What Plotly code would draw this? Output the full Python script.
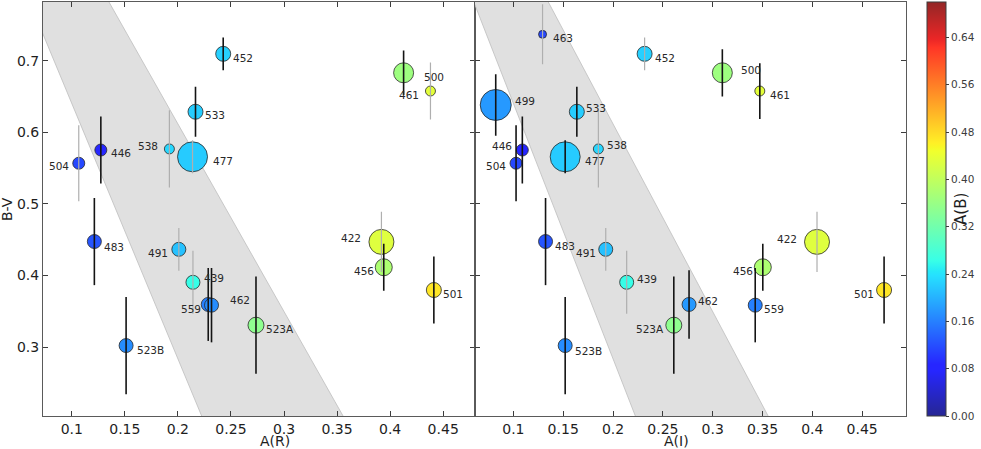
import numpy as np
import plotly.graph_objects as go

# ---------------- data ----------------
# Left panel: A(R) vs B-V
stars_R = ["452", "533", "538", "477", "504", "446", "483", "523B", "491", "439",
           "559", "462", "523A", "500", "461", "422", "456", "501"]
AR      = [0.2427, 0.2166, 0.1920, 0.2138, 0.1066, 0.1274, 0.1213, 0.1512, 0.2009, 0.2142,
           0.2286, 0.2317, 0.2736, 0.4127, 0.4380, 0.3918, 0.3940, 0.4412]
BV_R    = [0.710, 0.629, 0.577, 0.566, 0.557, 0.5755, 0.4475, 0.302, 0.4366, 0.3905,
           0.3595, 0.3585, 0.3305, 0.6835, 0.658, 0.447, 0.4115, 0.3797]
errBV_R = [0.023, 0.035, 0.054, 0.023, 0.053, 0.047, 0.061, 0.068, 0.030, 0.044,
           0.051, 0.052, 0.068, 0.031, 0.040, 0.042, 0.033, 0.047]
AB_R    = [0.224, 0.222, 0.230, 0.220, 0.115, 0.085, 0.125, 0.170, 0.212, 0.262,
           0.160, 0.170, 0.350, 0.365, 0.435, 0.430, 0.380, 0.470]
size_R  = [15, 15, 10, 30, 12, 12, 14, 14, 14, 14, 14, 14, 16, 20, 10, 25, 17, 15]

# Right panel: A(I) vs B-V
stars_I = ["463", "452", "499", "533", "538", "477", "446", "504", "483", "491",
           "439", "462", "523A", "523B", "500", "461", "422", "456", "559", "501"]
AI      = [0.1293, 0.2317, 0.0823, 0.1637, 0.1853, 0.1520, 0.1090, 0.1027, 0.1323, 0.1927,
           0.2137, 0.2763, 0.2610, 0.1520, 0.3097, 0.3473, 0.4047, 0.3503, 0.3427, 0.4720]
BV_I    = [0.7373, 0.710, 0.6385, 0.629, 0.577, 0.566, 0.5755, 0.557, 0.4475, 0.4366,
           0.3905, 0.3595, 0.3305, 0.302, 0.6835, 0.658, 0.447, 0.4115, 0.3585, 0.3797]
errBV_I = [0.042, 0.023, 0.043, 0.035, 0.054, 0.023, 0.047, 0.053, 0.061, 0.030,
           0.044, 0.048, 0.068, 0.068, 0.033, 0.039, 0.042, 0.033, 0.052, 0.047]
AB_I    = [0.115, 0.224, 0.180, 0.222, 0.230, 0.220, 0.085, 0.115, 0.125, 0.212,
           0.262, 0.180, 0.350, 0.170, 0.365, 0.435, 0.430, 0.380, 0.160, 0.470]
size_I  = [8, 15, 31, 15, 10, 30, 12, 12, 14, 14, 14, 14, 16, 14, 20, 10, 25, 17, 14, 15]

x_ticks = [0.1, 0.15, 0.2, 0.25, 0.3, 0.35, 0.4, 0.45]
x_ticklabels = ["0.1", "0.15", "0.2", "0.25", "0.3", "0.35", "0.4", "0.45"]
y_ticks = [0.3, 0.4, 0.5, 0.6, 0.7]
y_ticklabels = ["0.3", "0.4", "0.5", "0.6", "0.7"]
cb_ticks = [0.0, 0.08, 0.16, 0.24, 0.32, 0.40, 0.48, 0.56, 0.64]
cb_ticklabels = ["0.00", "0.08", "0.16", "0.24", "0.32", "0.40", "0.48", "0.56", "0.64"]

# ---------------- styles ----------------
dark_R = [True, True, False, False, False, True, True, True, False, False,
          True, True, True, True, False, False, True, True]
dark_I = [False, False, True, True, False, True, True, True, True, False,
          False, True, True, True, True, True, False, True, True, True]
off_R = {"452": (20, 4), "533": (19, 3), "538": (-21, -3), "477": (30, 4), "504": (-20, 3),
         "446": (20, 3), "483": (20, 5), "523B": (24, 4), "491": (-21, 4), "439": (21, -4),
         "559": (-17, 5), "462": (28, -5), "523A": (24, 4), "500": (30, 4), "461": (-21, 4),
         "422": (-30, -4), "456": (-20, 4), "501": (19, 4)}
off_I = {"463": (20, 4), "452": (20, 4), "499": (29, -4), "533": (19, -4), "538": (19, -4),
         "477": (30, 4), "446": (-20, -4), "504": (-20, 3), "483": (19, 4), "491": (-20, 4),
         "439": (20, -3), "462": (19, -3), "523A": (-24, 4), "523B": (23, 5), "500": (29, -3),
         "461": (20, 4), "422": (-30, -3), "456": (-20, 4), "559": (19, 4), "501": (-20, 4)}

ALPHA = 0.85  # jet colours blended with white

def jet_scale():
    r = [(0, 0), (0.35, 0), (0.66, 1), (0.89, 1), (1, 0.5)]
    g = [(0, 0), (0.125, 0), (0.375, 1), (0.64, 1), (0.91, 0), (1, 0)]
    b = [(0, 0.5), (0.11, 1), (0.34, 1), (0.65, 0), (1, 0)]
    stops = sorted(set([p[0] for p in r + g + b]))
    out = []
    for s in stops:
        cols = []
        for ch in (r, g, b):
            xs = [p[0] for p in ch]; ys = [p[1] for p in ch]
            v = np.interp(s, xs, ys)
            v = ALPHA * v + (1 - ALPHA)
            cols.append(int(round(255 * v)))
        out.append([s, "rgb(%d,%d,%d)" % tuple(cols)])
    return out

FONT = "DejaVu Sans"
CMIN, CMAX = 0.0, 0.70
XR_R = [0.0729, 0.4795]
XR_I = [0.061, 0.494]
YR = [0.2035, 0.7825]
TXT = "rgb(30,30,30)"

band_left0, band_left_slope = 0.2234, -0.280
band_right0, band_right_slope = 0.357, -0.381

fig = go.Figure()

def band_xy():
    ylo, yhi = 0.1, 0.9
    xs = [band_left0 + band_left_slope * (ylo - 0.2), band_right0 + band_right_slope * (ylo - 0.2),
          band_right0 + band_right_slope * (yhi - 0.2), band_left0 + band_left_slope * (yhi - 0.2)]
    ys = [ylo, ylo, yhi, yhi]
    return xs + [xs[0]], ys + [ys[0]]

for xa, ya in (("x", "y"), ("x2", "y2")):
    bx, by = band_xy()
    fig.add_trace(go.Scatter(x=bx, y=by, mode="lines", fill="toself",
                             fillcolor="rgb(224,224,224)", line=dict(color="rgb(190,190,190)", width=0.8),
                             hoverinfo="skip", showlegend=False, xaxis=xa, yaxis=ya))

def add_panel(xv, yv, ev, ab, sz, names, dark, offs, xa, ya):
    fig.add_trace(go.Scatter(
        x=xv, y=yv, mode="markers", xaxis=xa, yaxis=ya, showlegend=False,
        text=names,
        marker=dict(size=sz, color=ab, coloraxis="coloraxis", opacity=1,
                    line=dict(color="rgb(40,40,40)", width=0.8))))
    for flag, col, w in ((False, "rgb(175,175,175)", 1.2), (True, "rgb(20,20,20)", 1.6)):
        idx = [i for i, d in enumerate(dark) if d == flag]
        fig.add_trace(go.Scatter(
            x=[xv[i] for i in idx], y=[yv[i] for i in idx], mode="markers",
            marker=dict(size=1, color="rgba(0,0,0,0)"),
            error_y=dict(type="data", array=[ev[i] for i in idx], color=col,
                         thickness=w, width=0),
            xaxis=xa, yaxis=ya, showlegend=False, hoverinfo="skip"))
    for i, n in enumerate(names):
        dx, dy = offs[n]
        fig.add_annotation(x=xv[i], y=yv[i], xref=xa, yref=ya, text=n, showarrow=False,
                           xshift=dx, yshift=-dy, font=dict(family=FONT, size=10.5, color="rgb(40,40,40)"))

add_panel(AR, BV_R, errBV_R, AB_R, size_R, stars_R, dark_R, off_R, "x", "y")
add_panel(AI, BV_I, errBV_I, AB_I, size_I, stars_I, dark_I, off_I, "x2", "y2")

axis_common = dict(showline=True, linecolor="rgb(90,90,90)", linewidth=1, mirror="ticks",
                   ticks="inside", ticklen=5, tickcolor="rgb(60,60,60)", showgrid=False,
                   zeroline=False, automargin=False,
                   tickfont=dict(family=FONT, size=14, color=TXT))

# axis titles as paper annotations
for xp, t in ((0.25, "A(R)"), (0.75, "A(I)")):
    fig.add_annotation(x=xp, y=0.0, xref="paper", yref="paper", yshift=-16, yanchor="top",
                       borderpad=0, text=t, showarrow=False,
                       font=dict(family=FONT, size=14, color=TXT))
fig.add_annotation(x=0, y=0.5, xref="paper", yref="paper", xshift=-36, xanchor="center",
                   text="B-V", textangle=-90, showarrow=False,
                   font=dict(family=FONT, size=14, color=TXT))
fig.add_annotation(x=1.0637, y=0.5, xref="paper", yref="paper", xanchor="center",
                   text="A(B)", textangle=-90, showarrow=False,
                   font=dict(family=FONT, size=15, color=TXT))

fig.update_layout(
    width=981, height=449,
    margin=dict(l=43, r=75, t=2, b=33, autoexpand=False),
    paper_bgcolor="white", plot_bgcolor="white",
    font=dict(family=FONT),
    xaxis=dict(domain=[0, 0.5], range=XR_R, tickvals=x_ticks, ticktext=x_ticklabels, **axis_common),
    xaxis2=dict(domain=[0.5, 1], range=XR_I, tickvals=x_ticks, ticktext=x_ticklabels,
                anchor="y2", **axis_common),
    yaxis=dict(domain=[0, 1], range=YR, tickvals=y_ticks, ticktext=y_ticklabels, **axis_common),
    yaxis2=dict(domain=[0, 1], range=YR, tickvals=y_ticks, ticktext=y_ticklabels,
                showticklabels=False, anchor="x2", matches="y", **axis_common),
    coloraxis=dict(colorscale=jet_scale(), cmin=CMIN, cmax=CMAX,
                   colorbar=dict(x=1.0127, xanchor="left", xref="paper", thickness=19,
                                 lenmode="fraction", len=1.0, y=0.5, yanchor="middle", ypad=0,
                                 outlinewidth=1, outlinecolor="rgb(60,60,60)",
                                 tickvals=cb_ticks, ticktext=cb_ticklabels, ticks="outside",
                                 ticklen=3, tickcolor="rgb(60,60,60)",
                                 tickfont=dict(family=FONT, size=10.5, color="rgb(60,60,60)"))),
)

fig.write_html("out.html", config={"displayModeBar": False},
               post_script="document.body.style.margin='0';document.body.style.overflow='hidden';")
